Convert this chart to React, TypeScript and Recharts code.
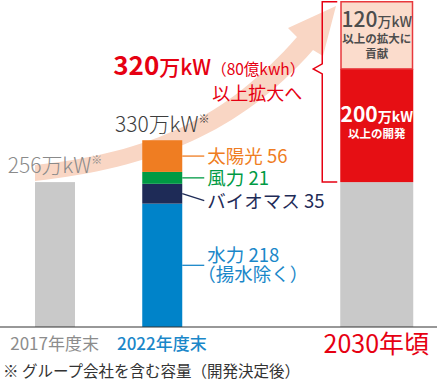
import React from 'react';
import { BarChart, Bar, XAxis, YAxis, LabelList } from 'recharts';

const FONT = "'Noto Sans CJK JP', 'Noto Sans', sans-serif";

// categories (the empty one is only a spacer before 2030)
const categories = ['2017年度末', '2022年度末', '', '2030年頃'];
const baseValues = [256, null, null, 256];
const hydroValues = [null, 218, null, null];
const bioValues = [null, 35, null, null];
const windValues = [null, 21, null, null];
const solarValues = [null, 56, null, null];
const devValues = [null, null, null, 200];
const contribValues = [null, null, null, 120];

const data = categories.map((name, i) => ({
  name,
  base: baseValues[i],
  hydro: hydroValues[i],
  bio: bioValues[i],
  wind: windValues[i],
  solar: solarValues[i],
  dev: devValues[i],
  contrib: contribValues[i],
}));

const WIDE_CAT = '2030年頃';
const WIDE = 73 / 40;
const RED = '#e60012';

const tickStyles: any = {
  '2017年度末': { fill: '#8c8c8c', size: 17, weight: 400, dy: 23 },
  '2022年度末': { fill: '#1a87c9', size: 17, weight: 500, dy: 23 },
  '2030年頃': { fill: RED, size: 25, weight: 400, dy: 26 },
};

const box = (p: any) => {
  const v = p.viewBox && p.viewBox.width != null ? p.viewBox : p;
  return { x: Number(v.x), y: Number(v.y), width: Number(v.width), height: Number(v.height) };
};

function BarShape(props: any) {
  const { x, y, width, height, fill, payload, index } = props;
  if (!height || height <= 0) return null;
  const name = payload?.name ?? categories[index];
  const w = name === WIDE_CAT ? width * WIDE : width;
  return <rect x={x + width / 2 - w / 2} y={y} width={w} height={height} fill={fill} />;
}

function PinkShape(props: any) {
  const { x, y, width, height, fill } = props;
  if (!height || height <= 0) return null;
  const w = width * WIDE;
  return (
    <rect x={x + width / 2 - w / 2 + 0.75} y={y + 0.75} width={w - 1.5} height={height - 0.75}
      fill={fill} stroke="#e8383d" strokeWidth={1.5} />
  );
}

function Tick(props: any) {
  const { x, y, payload } = props;
  const s = tickStyles[payload.value];
  if (!s) return null;
  return (
    <text x={x} y={y + s.dy} textAnchor="middle" fill={s.fill} fontSize={s.size} fontWeight={s.weight} fontFamily={FONT}>
      {payload.value}
    </text>
  );
}

const totalLabel = (idx: number, color: string, gap: number, total: () => number) => (props: any) => {
  if (props.index !== idx) return null;
  const b = box(props);
  return (
    <text x={b.x + b.width / 2} y={b.y - gap} textAnchor="middle" fill={color} fontSize={21} fontWeight={300} fontFamily={FONT}>
      {total()}万kW<tspan fontSize={11} dy={-9}>※</tspan>
    </text>
  );
};

const segLabel = (name: string, color: string, values: any[], opts: any = {}) => (props: any) => {
  if (props.index !== 1) return null;
  const b = box(props);
  const x0 = b.x + b.width;
  const mid = b.y + b.height / 2;
  const endY = mid + (opts.drop || 0);
  return (
    <g fontFamily={FONT}>
      <line x1={x0} y1={mid} x2={x0 + 22} y2={endY} stroke={color} strokeWidth={1.3} />
      {opts.sub ? (
        <>
          <text x={x0 + 25} y={mid - 3} fill={color} fontSize={18.5}>{name} {values[1]}</text>
          <text x={x0 + 15} y={mid + 16} fill={color} fontSize={18.5}>{opts.sub}</text>
        </>
      ) : (
        <text x={x0 + 25} y={endY + 7} fill={color} fontSize={18.5}>{name} {values[1]}</text>
      )}
    </g>
  );
};

const devLabel = (props: any) => {
  if (props.index !== 3) return null;
  const b = box(props);
  const cx = b.x + b.width / 2;
  return (
    <g fontFamily={FONT} fill="#fff" textAnchor="middle" fontWeight={700}>
      <text x={cx} y={b.y + 53}>
        <tspan fontSize={21}>{devValues[3]}</tspan><tspan fontSize={14}>万kW</tspan>
      </text>
      <text x={cx} y={b.y + 69} fontSize={11.5}>以上の開発</text>
    </g>
  );
};

const contribLabel = (props: any) => {
  if (props.index !== 3) return null;
  const b = box(props);
  const cx = b.x + b.width / 2;
  const left = cx - (b.width * WIDE) / 2;
  const redH = b.height * ((devValues[3] as number) / (contribValues[3] as number));
  const top = b.y + 0.75;
  const mid = b.y + b.height;
  const bottom = mid + redH;
  const bx = left - 18;
  const total = (devValues[3] as number) + (contribValues[3] as number);
  return (
    <g fontFamily={FONT}>
      <g fill="#4d4d4d" textAnchor="middle">
        <text x={cx} y={b.y + 26} fontWeight={500}>
          <tspan fontSize={21}>{contribValues[3]}</tspan><tspan fontSize={14}>万kW</tspan>
        </text>
        <text x={cx} y={b.y + 42} fontSize={11.5} fontWeight={700}>以上の拡大に</text>
        <text x={cx} y={b.y + 57} fontSize={11.5} fontWeight={700}>貢献</text>
      </g>
      <path d={`M ${left - 3} ${top} H ${bx} V ${mid - 5} L ${bx - 9} ${mid} L ${bx} ${mid + 5} V ${bottom} H ${left - 3}`}
        fill="none" stroke={RED} strokeWidth={1.5} />
      <text x={bx - 17} y={mid + 6} textAnchor="end" fill={RED}>
        <tspan fontSize={26} fontWeight={700}>{total}</tspan>
        <tspan fontSize={21} fontWeight={500}>万kW</tspan>
        <tspan fontSize={15.5}>（80億kwh）</tspan>
      </text>
      <text x={bx - 20} y={mid + 31} textAnchor="end" fill={RED} fontSize={18}>以上拡大へ</text>
    </g>
  );
};

const sum2022 = () => [hydroValues, bioValues, windValues, solarValues].reduce((s, a) => s + (a[1] as number), 0);

export default function App() {
  return (
    <div style={{ position: 'absolute', left: 0, top: 0, width: 437, height: 383, background: '#fff' }}>
      <svg width={437} height={383} style={{ position: 'absolute', left: 0, top: 0 }}>
        <path
          d="M 35 165 C 150 153, 226 118, 297 37 L 288 28 L 336 6 L 323 56 L 313 50 C 240 133, 152 168, 35 181 Z"
          fill="#f9d6c4"
        />
        <text x={3} y={377} fontSize={15.5} fill="#333" fontFamily={FONT}>※ グループ会社を含む容量（開発決定後）</text>
      </svg>
      <div style={{ position: 'absolute', left: 0, top: 0 }}>
        <BarChart width={437} height={383} data={data} margin={{ top: 1, right: 0, left: 0, bottom: 26 }} barSize={40}>
          <XAxis dataKey="name" height={30} padding={{ left: 1, right: 7 }} tickLine={false} tickSize={0} tickMargin={0}
            axisLine={{ stroke: '#333', strokeWidth: 1.2 }} tick={<Tick />} interval={0} />
          <YAxis hide domain={[0, 576]} />
          <Bar dataKey="base" stackId="a" fill="#c9c9c9" shape={<BarShape />} isAnimationActive={false}>
            <LabelList content={totalLabel(0, '#8a8a8a', 9, () => baseValues[0] as number)} />
          </Bar>
          <Bar dataKey="hydro" stackId="a" fill="#0083c9" shape={<BarShape />} isAnimationActive={false}>
            <LabelList content={segLabel('水力', '#1a87c9', hydroValues, { sub: '（揚水除く）' })} />
          </Bar>
          <Bar dataKey="bio" stackId="a" fill="#1e2b57" shape={<BarShape />} isAnimationActive={false}>
            <LabelList content={segLabel('バイオマス', '#1e2b57', bioValues, { drop: 7 })} />
          </Bar>
          <Bar dataKey="wind" stackId="a" fill="#009a44" shape={<BarShape />} isAnimationActive={false}>
            <LabelList content={segLabel('風力', '#009a44', windValues)} />
          </Bar>
          <Bar dataKey="solar" stackId="a" fill="#ef7d22" shape={<BarShape />} isAnimationActive={false}>
            <LabelList content={segLabel('太陽光', '#ef7d22', solarValues)} />
            <LabelList content={totalLabel(1, '#3d3d3d', 8, sum2022)} />
          </Bar>
          <Bar dataKey="dev" stackId="a" fill="#e60f14" shape={<BarShape />} isAnimationActive={false}>
            <LabelList content={devLabel} />
          </Bar>
          <Bar dataKey="contrib" stackId="a" fill="#fbdccc" shape={<PinkShape />} isAnimationActive={false}>
            <LabelList content={contribLabel} />
          </Bar>
        </BarChart>
      </div>
    </div>
  );
}
